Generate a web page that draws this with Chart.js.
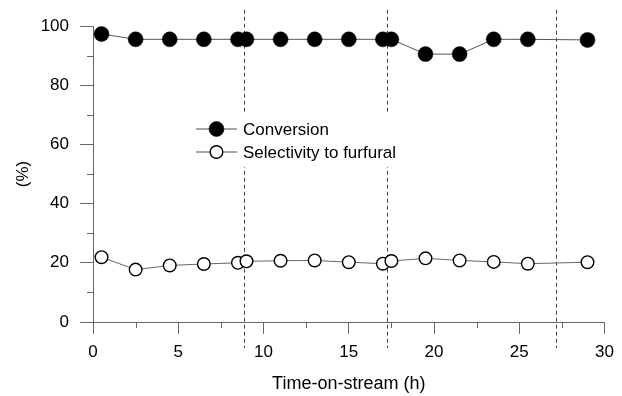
<!DOCTYPE html>
<html>
<head>
<meta charset="utf-8">
<script src="https://cdn.jsdelivr.net/npm/chart.js@4"></script>
<style>
  html, body { margin: 0; padding: 0; background: #fff; }
  #wrap { width: 622px; height: 396px; }
</style>
</head>
<body>
<div id="wrap"><canvas id="chart" width="622" height="396"></canvas></div>
<script>
// time-on-stream (h)
const hours = [0.5, 2.5, 4.5, 6.5, 8.5, 9.0, 11, 13, 15, 17, 17.5, 19.5, 21.5, 23.5, 25.5, 29];
const conversion = [97.3, 95.5, 95.5, 95.5, 95.5, 95.5, 95.5, 95.5, 95.5, 95.5, 95.5, 90.5, 90.5, 95.5, 95.5, 95.3];
const selectivity = [21.9, 17.7, 19.1, 19.6, 20.0, 20.5, 20.7, 20.8, 20.2, 19.7, 20.6, 21.5, 20.8, 20.3, 19.7, 20.2];
const xTicks = [0, 5, 10, 15, 20, 25, 30];
const yTicks = [0, 20, 40, 60, 80, 100];
const xMinor = [2.5, 7.5, 12.5, 17.5, 22.5, 27.5];
const yMinor = [10, 30, 50, 70, 90];
const dividers = [8.85, 17.25, 27.15];

const axisColor = "#666";
const fontFamily = "'Liberation Sans', Arial, sans-serif";

function pts(ys) {
    return hours.map((h, i) => ({ x: h, y: ys[i] }));
}

const extras = {
    id: "extras",
    beforeDatasetsDraw(chart) {
        const { ctx, scales: { x, y } } = chart;
        ctx.save();
        ctx.strokeStyle = "#444";
        ctx.lineWidth = 1;
        ctx.setLineDash([4, 3]);
        dividers.forEach(d => {
            const px = Math.round(x.getPixelForValue(d)) + 0.5;
            ctx.beginPath();
            ctx.moveTo(px, y.getPixelForValue(105.5));
            ctx.lineTo(px, y.getPixelForValue(-8.8));
            ctx.stroke();
        });
        ctx.restore();
    },
    afterDraw(chart) {
        const { ctx, chartArea, scales: { x, y } } = chart;
        ctx.save();
        // minor ticks
        ctx.strokeStyle = axisColor;
        ctx.lineWidth = 1;
        xMinor.forEach(v => {
            const px = Math.round(x.getPixelForValue(v)) + 0.5;
            ctx.beginPath();
            ctx.moveTo(px, chartArea.bottom);
            ctx.lineTo(px, chartArea.bottom + 6);
            ctx.stroke();
        });
        yMinor.forEach(v => {
            const py = Math.round(y.getPixelForValue(v)) + 0.5;
            ctx.beginPath();
            ctx.moveTo(chartArea.left - 6, py);
            ctx.lineTo(chartArea.left, py);
            ctx.stroke();
        });

        // legend box
        ctx.fillStyle = "#fff";
        ctx.fillRect(190, 112, 212, 55);
        const items = chart.data.datasets;
        items.forEach((ds, i) => {
            const cy = 129 + i * 23;
            ctx.strokeStyle = "#888";
            ctx.lineWidth = 1.5;
            ctx.beginPath();
            ctx.moveTo(196, cy);
            ctx.lineTo(237, cy);
            ctx.stroke();
            ctx.beginPath();
            ctx.arc(216.5, cy, i === 0 ? 7.5 : 6.3, 0, Math.PI * 2);
            ctx.fillStyle = ds.pointBackgroundColor;
            ctx.fill();
            ctx.strokeStyle = "#000";
            ctx.lineWidth = ds.pointBorderWidth;
            ctx.stroke();
            ctx.fillStyle = "#000";
            ctx.font = "17px " + fontFamily;
            ctx.textBaseline = "middle";
            ctx.textAlign = "left";
            ctx.fillText(ds.label, 243, cy + 1);
        });
        ctx.restore();
    }
};

new Chart(document.getElementById("chart"), {
    type: "scatter",
    data: {
        datasets: [{
            label: "Conversion",
            data: pts(conversion),
            showLine: true,
            borderColor: "#555",
            borderWidth: 1,
            pointRadius: 7.5,
            pointBackgroundColor: "#000",
            pointBorderColor: "#000",
            pointBorderWidth: 0.5
        }, {
            label: "Selectivity to furfural",
            data: pts(selectivity),
            showLine: true,
            borderColor: "#666",
            borderWidth: 1,
            pointRadius: 6.3,
            pointBackgroundColor: "#fff",
            pointBorderColor: "#000",
            pointBorderWidth: 1.4
        }]
    },
    options: {
        responsive: false,
        animation: false,
        layout: { padding: { top: 26, right: 12, left: 0, bottom: 0 } },
        plugins: {
            legend: { display: false },
            tooltip: { enabled: false }
        },
        scales: {
            x: {
                type: "linear",
                min: 0,
                max: 30,
                afterFit: s => { s.height = 74; },
                afterBuildTicks: s => { s.ticks = xTicks.map(v => ({ value: v })); },
                ticks: { color: "#000", padding: 8, maxRotation: 0, font: { size: 17, family: fontFamily } },
                grid: { drawOnChartArea: false, tickLength: 12, color: axisColor, tickColor: axisColor },
                border: { color: axisColor, width: 1 },
                title: { display: true, text: "Time-on-stream (h)", color: "#000", padding: { top: 0, bottom: 1 }, font: { size: 18, family: fontFamily } }
            },
            y: {
                min: 0,
                max: 100,
                afterFit: s => { s.width = 93; },
                afterBuildTicks: s => { s.ticks = yTicks.map(v => ({ value: v })); },
                ticks: { color: "#000", padding: 11, font: { size: 17, family: fontFamily } },
                grid: { drawOnChartArea: false, tickLength: 13, color: axisColor, tickColor: axisColor },
                border: { color: axisColor, width: 1 },
                title: { display: true, text: "(%)", color: "#000", padding: { top: 13, bottom: 0 }, font: { size: 17, family: fontFamily } }
            }
        }
    },
    plugins: [extras]
});
</script>
</body>
</html>
